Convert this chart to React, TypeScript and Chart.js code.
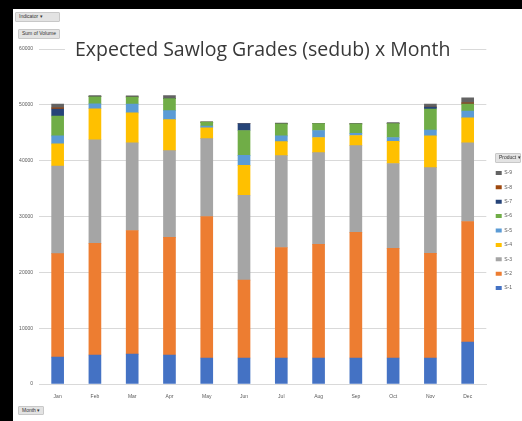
import React, { useEffect, useRef } from "react";
import { Chart, registerables } from "chart.js";
Chart.register(...registerables);

const TITLE = "Expected Sawlog Grades (sedub) x Month";
const months = ["Jan", "Feb", "Mar", "Apr", "May", "Jun", "Jul", "Aug", "Sep", "Oct", "Nov", "Dec"];
const gradeLabels = ["S-1", "S-2", "S-3", "S-4", "S-5", "S-6", "S-7", "S-8", "S-9"];
const gradeColors = ["#4472C4", "#ED7D31", "#A5A5A5", "#FFC000", "#5B9BD5", "#70AD47", "#264478", "#9E480E", "#636363"];
const yTicks = [0, 10000, 20000, 30000, 40000, 50000, 60000];

const s1 = [4800, 5200, 5350, 5200, 4650, 4650, 4650, 4650, 4650, 4650, 4650, 7500];
const s2 = [18550, 20000, 22150, 21050, 25350, 13950, 19800, 20350, 22500, 19650, 18750, 21600];
const s3 = [15700, 18550, 15700, 15550, 13950, 15200, 16450, 16450, 15550, 15200, 15350, 14100];
const s4 = [3950, 5550, 5350, 5550, 1950, 5350, 2500, 2700, 1800, 3950, 5700, 4450];
const s5 = [1450, 900, 1600, 1600, 300, 1800, 1050, 1250, 400, 700, 1050, 1250];
const s6 = [3550, 1250, 1250, 2150, 700, 4450, 2150, 1250, 1700, 2500, 3750, 1250];
const s7 = [1250, 0, 0, 0, 0, 1250, 0, 0, 0, 0, 350, 0];
const s8 = [200, 0, 0, 0, 0, 0, 0, 0, 0, 0, 0, 200];
const s9 = [700, 200, 200, 550, 0, 0, 150, 0, 0, 150, 550, 900];
const seriesValues = [s1, s2, s3, s4, s5, s6, s7, s8, s9];

const btn: React.CSSProperties = {
  position: "absolute",
  background: "#e3e3e3",
  border: "1px solid #c8c8c8",
  borderRadius: 1,
  fontFamily: "Liberation Sans, Arial, sans-serif",
  fontSize: 5,
  lineHeight: "7px",
  color: "#333",
  padding: "0 3px",
  boxSizing: "border-box",
  whiteSpace: "nowrap",
};

export default function App() {
  const ref = useRef<HTMLCanvasElement>(null);
  useEffect(() => {
    const titlePlugin = {
      id: "overlayTitle",
      afterDraw(chart: any) {
        const ctx = chart.ctx;
        const ca = chart.chartArea;
        ctx.save();
        ctx.font = '19.5px "Open Sans"';
        const w = ctx.measureText(TITLE).width;
        const cx = (ca.left + ca.right) / 2;
        ctx.fillStyle = "#ffffff";
        ctx.fillRect(cx - w / 2 - 10, ca.top - 10, w + 20, 20);
        ctx.fillStyle = "#383838";
        ctx.textAlign = "center";
        ctx.textBaseline = "alphabetic";
        ctx.fillText(TITLE, cx, ca.top + 7);
        ctx.restore();
      },
    };
    const chart = new Chart(ref.current!, {
      type: "bar",
      data: {
        labels: months,
        datasets: seriesValues.map((vals, i) => ({
          label: gradeLabels[i],
          data: vals,
          backgroundColor: gradeColors[i],
          borderWidth: 0,
          barThickness: 12,
        })),
      },
      options: {
        animation: false,
        responsive: false,
        maintainAspectRatio: false,
        layout: { padding: { top: 40, left: 0, right: 0, bottom: 0 } },
        plugins: {
          title: { display: false },
          tooltip: { enabled: false },
          legend: {
            position: "right",
            align: "start",
            reverse: true,
            maxWidth: 36,
            title: { display: true, text: "", font: { size: 5 }, padding: { top: 106, bottom: 0 } },
            labels: {
              boxWidth: 6,
              boxHeight: 4,
              padding: 9.4,
              color: "#595959",
              font: { size: 5, family: "Liberation Sans" },
            },
          },
        },
        scales: {
          x: {
            stacked: true,
            grid: { display: false },
            border: { display: true, color: "#d9d9d9" },
            ticks: { color: "#595959", font: { size: 5, family: "Liberation Sans" }, padding: 2 },
            afterFit: (s: any) => { s.height = 37; },
          },
          y: {
            stacked: true,
            min: 0,
            max: 60000,
            afterBuildTicks: (s: any) => { s.ticks = yTicks.map((v) => ({ value: v })); },
            grid: { color: "#d9d9d9", drawTicks: false },
            border: { display: false },
            ticks: {
              color: "#595959",
              font: { size: 5, family: "Liberation Sans" },
              padding: 6,
              callback: (v: any) => String(v),
            },
            afterFit: (s: any) => { s.width = 26; },
          },
        },
      },
      plugins: [titlePlugin],
    });
    return () => chart.destroy();
  }, []);

  return (
    <div style={{ position: "fixed", inset: 0, background: "#000" }}>
      <div style={{ position: "absolute", left: 13, top: 9, width: 509, height: 412, background: "#fff" }}>
        <canvas ref={ref} width={509} height={412} style={{ display: "block" }} />
        <div style={{ ...btn, left: 2, top: 3, width: 45, height: 10 }}>Indicator ▾</div>
        <div style={{ ...btn, left: 5, top: 20, width: 42, height: 10 }}>Sum of Volume</div>
        <div style={{ ...btn, left: 482, top: 144, width: 26, height: 10 }}>Product ▾</div>
        <div style={{ ...btn, left: 5, top: 397, width: 26, height: 9 }}>Month ▾</div>
      </div>
    </div>
  );
}
